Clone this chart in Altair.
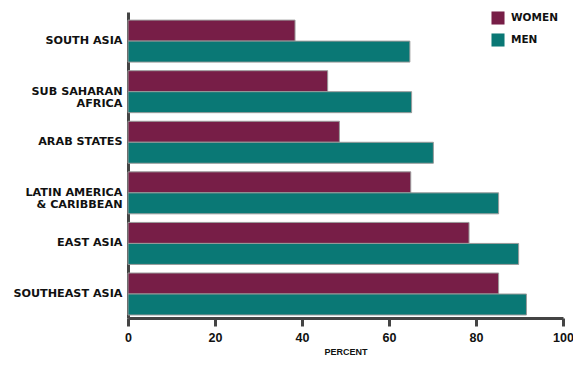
import altair as alt
import pandas as pd

regions = ["SOUTH ASIA", "SUB SAHARAN|AFRICA", "ARAB STATES", "LATIN AMERICA|& CARIBBEAN", "EAST ASIA", "SOUTHEAST ASIA"]
women = [38.4, 45.9, 48.6, 65.0, 78.4, 85.2]
men = [64.8, 65.2, 70.2, 85.2, 89.8, 91.6]
series = ["WOMEN", "MEN"]
colors = ["#771E47", "#0A7875"]

rows = []
for r, w, m in zip(regions, women, men):
    rows.append({"region": r, "sex": "WOMEN", "value": w})
    rows.append({"region": r, "sex": "MEN", "value": m})
df = pd.DataFrame(rows)

font = "Liberation Sans"
lfont = "DejaVu Sans"

chart = alt.Chart(df).mark_bar(stroke="#9a9a9a", strokeWidth=1).encode(
    x=alt.X("value:Q", scale=alt.Scale(domain=[0, 100]),
            axis=alt.Axis(title="PERCENT", values=[0, 20, 40, 60, 80, 100], grid=False,
                          labelFlush=False,
                          domainColor="#444", domainWidth=3, tickColor="#444", tickWidth=3,
                          tickSize=8, labelFont=font, labelFontWeight="bold", labelFontSize=12.5,
                          labelColor="#111", labelPadding=5, titleFont=font, titleFontSize=9,
                          titleFontWeight="bold", titleColor="#111", titlePadding=4)),
    y=alt.Y("region:N", sort=regions,
            scale=alt.Scale(paddingInner=0.17, paddingOuter=0.11, align=0.73),
            axis=alt.Axis(title=None, ticks=False, domainColor="#444", domainWidth=3,
                          labelFont=lfont, labelFontWeight="bold", labelFontSize=11.2,
                          labelColor="#111", labelPadding=6, labelLineHeight=12,
                          labelExpr="split(datum.label, '|')")),
    yOffset=alt.YOffset("sex:N", sort=series, scale=alt.Scale(paddingInner=0, paddingOuter=0)),
    color=alt.Color("sex:N", sort=series, scale=alt.Scale(domain=series, range=colors),
                    legend=alt.Legend(title=None, orient="none", legendX=363, legendY=-1,
                                      symbolType="square", symbolSize=170, symbolStrokeWidth=0,
                                      labelFont=lfont, labelFontWeight="bold", labelFontSize=10.5,
                                      labelColor="#111", rowPadding=8, labelOffset=6)),
).properties(
    width=435, height=306,
    autosize=alt.AutoSizeParams(type="none"),
    padding={"left": 120, "top": 4, "right": 10, "bottom": 41},
).configure_view(stroke=None)

chart.save("out.html", embed_options={"renderer": "svg", "actions": False})
